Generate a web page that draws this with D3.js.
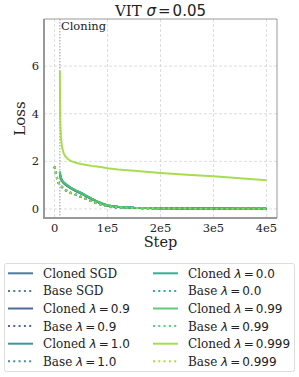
<!DOCTYPE html>
<html><head><meta charset="utf-8">
<script src="https://cdn.jsdelivr.net/npm/d3@7"></script>
<style>body{margin:0;background:#fff}svg{display:block}</style>
</head><body><svg id="c" width="299" height="377"></svg>
<script>
const names = ["SGD","0.9","1.0","0.0","0.99","0.999"];
const colors = ["#3a6b9c","#3b5a94","#2b8a91","#22a686","#4ec46e","#9ed93c"];
const xTicks = [0,1e5,2e5,3e5,4e5];
const xTickLabels = ["0","1e5","2e5","3e5","4e5"];
const yTicks = [0,2,4,6];
const cloneStep = 1e4;

const baseSteps = [0,2500,5000,7500,10000,15000,20000,30000,40000,50000,60000,70000,80000,90000,100000,120000,150000,200000,250000,300000,350000,400000];
const baseSGD  = [1.78,1.50,1.26,1.10,1.00,0.90,0.80,0.68,0.60,0.51,0.42,0.33,0.24,0.17,0.11,0.06,0.04,0.02,0.015,0.01,0.008,0.006];
const base09   = [1.77,1.49,1.25,1.09,0.99,0.89,0.79,0.67,0.59,0.50,0.41,0.32,0.23,0.16,0.11,0.06,0.04,0.02,0.015,0.01,0.008,0.006];
const base10   = [1.78,1.51,1.27,1.11,1.01,0.91,0.81,0.69,0.61,0.52,0.43,0.34,0.25,0.17,0.11,0.06,0.04,0.02,0.015,0.01,0.008,0.006];
const base00   = [1.78,1.50,1.26,1.10,1.00,0.90,0.80,0.68,0.60,0.51,0.42,0.33,0.24,0.17,0.11,0.06,0.04,0.02,0.015,0.01,0.008,0.006];
const base099  = [1.77,1.50,1.25,1.10,1.00,0.90,0.80,0.68,0.60,0.51,0.42,0.33,0.24,0.17,0.11,0.06,0.04,0.02,0.015,0.01,0.008,0.006];
const base0999 = [1.78,1.50,1.26,1.10,1.00,0.90,0.80,0.68,0.60,0.51,0.42,0.33,0.24,0.17,0.11,0.06,0.04,0.02,0.015,0.01,0.008,0.006];

const clonedSteps = [10000,10500,12000,14000,17000,20000,25000,30000,40000,50000,60000,70000,80000,90000,100000,120000,150000,200000,250000,300000,350000,400000];
const clonedSGD  = [1.55,1.42,1.28,1.18,1.10,1.04,0.96,0.88,0.76,0.66,0.54,0.42,0.31,0.22,0.15,0.08,0.05,0.03,0.02,0.015,0.01,0.008];
const cloned09   = [1.54,1.41,1.27,1.17,1.09,1.03,0.95,0.87,0.75,0.65,0.53,0.41,0.30,0.21,0.14,0.08,0.05,0.03,0.02,0.015,0.01,0.008];
const cloned10   = [1.56,1.43,1.29,1.19,1.11,1.05,0.97,0.89,0.77,0.67,0.55,0.43,0.32,0.22,0.15,0.08,0.05,0.03,0.02,0.015,0.01,0.008];
const cloned00   = [1.57,1.44,1.30,1.20,1.12,1.06,0.98,0.90,0.78,0.67,0.55,0.43,0.32,0.23,0.15,0.09,0.05,0.03,0.02,0.015,0.01,0.008];
const cloned099  = [1.57,1.44,1.30,1.20,1.12,1.06,0.98,0.90,0.78,0.67,0.55,0.43,0.32,0.23,0.15,0.09,0.05,0.03,0.02,0.015,0.01,0.008];
const cloned0999 = [5.80,3.80,3.00,2.60,2.35,2.22,2.10,2.02,1.94,1.89,1.85,1.81,1.78,1.75,1.71,1.66,1.60,1.51,1.44,1.37,1.29,1.21];

const baseVals = [baseSGD,base09,base10,base00,base099,base0999];
const clonedVals = [clonedSGD,cloned09,cloned10,cloned00,cloned099,cloned0999];

const svg = d3.select("#c");
const L=44, R=277, T=19, B=218;
const x = d3.scaleLinear().domain([-2e4,4.2e5]).range([L,R]);
const y = d3.scaleLinear().domain([-0.38,7.98]).range([B,T]);
const serif = "DejaVu Serif";
const sans = "DejaVu Sans";

svg.append("defs").append("clipPath").attr("id","clip").append("rect")
  .attr("x",L).attr("y",T).attr("width",R-L).attr("height",B-T);

// grid
const g = svg.append("g");
g.selectAll(".gx").data(xTicks).join("line")
  .attr("x1",d=>x(d)).attr("x2",d=>x(d)).attr("y1",T).attr("y2",B)
  .attr("stroke","#d6d6d6").attr("stroke-width",0.8).attr("stroke-dasharray","3,2");
g.selectAll(".gy").data(yTicks).join("line")
  .attr("y1",d=>y(d)).attr("y2",d=>y(d)).attr("x1",L).attr("x2",R)
  .attr("stroke","#d6d6d6").attr("stroke-width",0.8).attr("stroke-dasharray","3,2");

// cloning line
svg.append("line").attr("x1",x(cloneStep)).attr("x2",x(cloneStep)).attr("y1",T).attr("y2",B)
  .attr("stroke","#999").attr("stroke-width",1).attr("stroke-dasharray","1.5,1.5");
svg.append("text").attr("x",x(cloneStep)+1).attr("y",T+10.5).attr("font-family",serif)
  .attr("font-size",11.5).attr("fill","#222").text("Cloning");

// lines
const line = d3.line().x(d=>x(d[0])).y(d=>y(d[1]));
const lg = svg.append("g").attr("clip-path","url(#clip)");
names.forEach((n,i)=>{
  lg.append("path").datum(clonedSteps.map((s,j)=>[s,clonedVals[i][j]]))
    .attr("d",line).attr("fill","none").attr("stroke",colors[i]).attr("stroke-width",2)
    .attr("stroke-opacity",0.9);
  lg.append("path").datum(baseSteps.map((s,j)=>[s,baseVals[i][j]]))
    .attr("d",line).attr("fill","none").attr("stroke",colors[i]).attr("stroke-width",2)
    .attr("stroke-dasharray","2,3.3").attr("stroke-opacity",0.9);
});

// spines
svg.append("line").attr("x1",L).attr("x2",R).attr("y1",T).attr("y2",T).attr("stroke","#999").attr("stroke-width",1);
svg.append("line").attr("x1",R).attr("x2",R).attr("y1",T).attr("y2",B).attr("stroke","#999").attr("stroke-width",1);
svg.append("line").attr("x1",L).attr("x2",L).attr("y1",T).attr("y2",B+1).attr("stroke","#999").attr("stroke-width",2);
svg.append("line").attr("x1",L-1).attr("x2",R).attr("y1",B).attr("y2",B).attr("stroke","#999").attr("stroke-width",2);

// tick labels
svg.selectAll(".xt").data(xTicks).join("text")
  .attr("x",d=>x(d)).attr("y",B+14).attr("text-anchor","middle")
  .attr("font-family",serif).attr("font-size",11.5).attr("fill","#222")
  .text((d,i)=>xTickLabels[i]);
svg.selectAll(".yt").data(yTicks).join("text")
  .attr("x",L-5).attr("y",d=>y(d)+4).attr("text-anchor","end")
  .attr("font-family",serif).attr("font-size",11.5).attr("fill","#222").text(d=>d);

// axis labels
svg.append("text").attr("x",(L+R)/2).attr("y",B+29).attr("text-anchor","middle")
  .attr("font-family",serif).attr("font-size",14.5).attr("fill","#222").text("Step");
svg.append("text").attr("transform",`translate(${L-19},${(T+B)/2}) rotate(-90)`)
  .attr("text-anchor","middle").attr("font-family",serif).attr("font-size",15).attr("fill","#222").text("Loss");

// title
const tt = svg.append("text").attr("x",(L+R)/2).attr("y",16).attr("text-anchor","middle")
  .attr("font-size",15).attr("fill","#222");
tt.append("tspan").attr("font-family",serif).text("VIT ");
tt.append("tspan").attr("font-family",sans).attr("font-style","italic").text("σ");
tt.append("tspan").attr("font-family",sans).attr("dx",2).text("=");
tt.append("tspan").attr("font-family",sans).attr("dx",2).text("0.05");

// legend
const leg = svg.append("g");
leg.append("rect").attr("x",4.5).attr("y",263.5).attr("width",290).attr("height",108).attr("rx",2)
  .attr("fill","#fff").attr("stroke","#ddd").attr("stroke-width",1);
const items = [];
names.forEach((n,i)=>{
  items.push({c:colors[i], dash:false, pre:"Cloned ", n});
  items.push({c:colors[i], dash:true, pre:"Base ", n});
});
items.forEach((it,k)=>{
  const col = Math.floor(k/6), row = k%6;
  const lx = col===0 ? 8 : 153, ty = 273.3 + row*17.6;
  leg.append("line").attr("x1",lx).attr("x2",lx+25).attr("y1",ty).attr("y2",ty)
    .attr("stroke",it.c).attr("stroke-width",2).attr("stroke-opacity",0.9)
    .attr("stroke-dasharray",it.dash?"2,3.3":null);
  const t = leg.append("text").attr("x",lx+35).attr("y",ty+4.5).attr("font-size",12).attr("fill","#222");
  t.append("tspan").attr("font-family",serif).text(it.pre);
  if (it.n==="SGD") t.append("tspan").attr("font-family",serif).text("SGD");
  else {
    t.append("tspan").attr("font-family",sans).attr("font-style","italic").text("λ");
    t.append("tspan").attr("font-family",sans).attr("dx",2).text("=");
    t.append("tspan").attr("font-family",sans).attr("dx",2).text(it.n);
  }
});
</script></body></html>
